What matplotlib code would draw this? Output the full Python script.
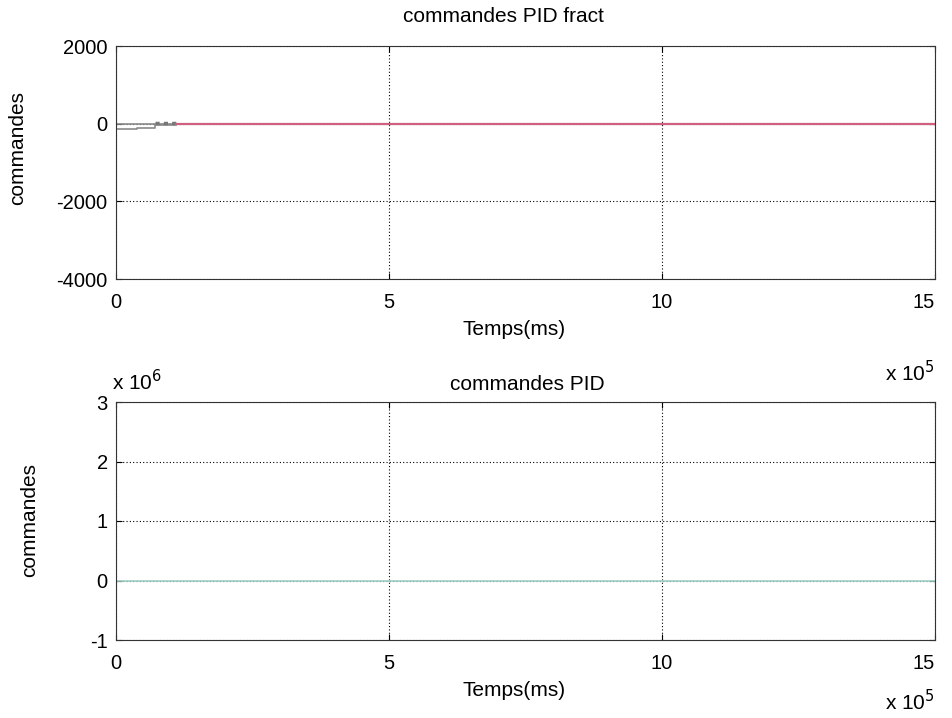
import numpy as np
import matplotlib.pyplot as plt
from matplotlib.ticker import FuncFormatter

plt.rcParams['font.family'] = ['Liberation Sans', 'DejaVu Sans']
plt.rcParams['axes.unicode_minus'] = False

# top panel: fractional PID commands (time in ms)
t_gray_hi = [0, 1.2e5]
u_gray_hi = [0, 0]
t_gray_lo = [0, 0.38e5, 0.38e5, 0.72e5, 0.72e5, 1.1e5]
u_gray_lo = [-150, -150, -100, -100, -40, -40]
t_dots = [0.72e5, 1.12e5]
u_dots = [30, 30]
t_pink = [1.1e5, 15e5]
u_pink = [0, 0]

# bottom panel: classic PID commands
t_pid = [0, 15e5]
u_pid_top = [3e6, 3e6]
u_pid_zero = [0, 0]

xticks = [0, 5e5, 10e5, 15e5]
top_yticks = [-4000, -2000, 0, 2000]
bot_yticks = [-1e6, 0, 1e6, 2e6, 3e6]

W, H = 953, 718
fig = plt.figure(figsize=(W / 100, H / 100), dpi=100)
ax1 = fig.add_axes([116 / W, 1 - 279 / H, 819 / W, 233 / H])
ax2 = fig.add_axes([116 / W, 1 - 640 / H, 819 / W, 238 / H])

fs_tick = 14.5
fs_lab = 15


def ftext(x, y, s, **kw):
    # place text by pixel position from the top-left corner
    fig.text(x / W, 1 - y / H, s, fontsize=fs_lab, **kw)


ax1.plot(t_gray_hi, u_gray_hi, color='#8a8a8a', lw=1.2)
ax1.plot(t_gray_lo, u_gray_lo, color='#8a8a8a', lw=1.2)
ax1.plot(t_dots, u_dots, color='#777777', lw=2.5, ls=(0, (1.2, 1.2)))
ax1.plot(t_pink, u_pink, color='#d0607f', lw=1.6)
ax1.set_xlim(0, 15e5)
ax1.set_ylim(-4000, 2000)
ax1.set_yticks(top_yticks)

ax2.plot(t_pid, u_pid_top, color='#c2e2dc', lw=1.2)
ax2.plot(t_pid, u_pid_zero, color='#9fd0c6', lw=1.2)
ax2.set_xlim(0, 15e5)
ax2.set_ylim(-1e6, 3e6)
ax2.set_yticks(bot_yticks)
ax2.yaxis.set_major_formatter(FuncFormatter(lambda v, p: f'{v / 1e6:g}'))

for ax in (ax1, ax2):
    ax.set_xticks(xticks)
    ax.xaxis.set_major_formatter(FuncFormatter(lambda v, p: f'{v / 1e5:g}'))
    ax.tick_params(direction='in', labelsize=fs_tick, top=True, right=True, length=4)
    ax.tick_params(axis='x', pad=10)
    ax.tick_params(axis='y', pad=6)
    ax.grid(True, color='black', ls=(0, (1, 2)), lw=0.8)
    for s in ax.spines.values():
        s.set_color('#333333')
    # keep the last x label inside the frame
    ax.get_xticklabels()[-1].set_horizontalalignment('right')

ftext(503, 16, 'commandes PID fract', ha='center', va='center')
ftext(514, 330, 'Temps(ms)', ha='center', va='center')
ftext(18, 148, 'commandes', ha='center', va='center', rotation=90)
ftext(935, 373, r'x 10$^5$', ha='right', va='center')

ftext(527, 384, 'commandes PID', ha='center', va='center')
ftext(112, 382, r'x 10$^6$', ha='left', va='center')
ftext(30, 520, 'commandes', ha='center', va='center', rotation=90)
ftext(514, 690, 'Temps(ms)', ha='center', va='center')
ftext(935, 702, r'x 10$^5$', ha='right', va='center')

fig.savefig('out.png', dpi=100, facecolor='white')
